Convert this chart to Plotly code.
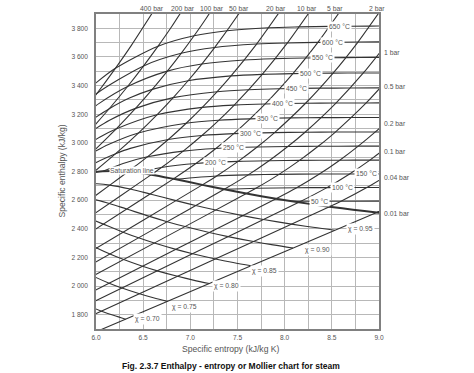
import plotly.graph_objects as go

# ---------------- data (s in kJ/kg K, h in kJ/kg) ----------------
# saturated vapour line
sat_s = [5.9734, 6.0701, 6.1869, 6.3409, 6.5865, 6.8213, 7.1271, 7.3594, 7.5939, 7.9085, 8.1502, 8.3951, 8.4746, 8.7237, 8.9756, 9.1562]
sat_h = [2794.3, 2801.4, 2804.2, 2799.5, 2778.1, 2748.7, 2706.7, 2675.5, 2645.9, 2609.7, 2584.7, 2561.5, 2554.4, 2533.5, 2514.2, 2501.4]

# isobars
p400_s = [5.7785, 6.0114, 6.2054, 6.3750, 6.6662]
p400_h = [3149.1, 3346.4, 3520.6, 3681.2, 3978.7]
p200_s = [5.9017, 6.1401, 6.3348, 6.5048, 6.6582, 6.7993, 7.0544]
p200_h = [3060.1, 3238.2, 3393.5, 3537.6, 3675.3, 3809.0, 4069.7]
p100_s = [5.9443, 6.2120, 6.4190, 6.5966, 6.7561, 6.9029, 7.0398, 7.1687, 7.4077]
p100_h = [2923.4, 3096.5, 3240.9, 3373.7, 3500.9, 3625.3, 3748.2, 3870.5, 4114.8]
p50_s = [5.9000, 5.9734, 6.2084, 6.4493, 6.6459, 6.8186, 6.9759, 7.1217, 7.2589, 7.5122, 7.7440]
p50_h = [2754.9, 2794.3, 2924.5, 3068.4, 3195.7, 3316.2, 3433.8, 3550.3, 3666.5, 3900.1, 4137.0]
p20_s = [5.9000, 6.1500, 6.3409, 6.4147, 6.5453, 6.7664, 6.9563, 7.1271, 7.2844, 7.4317, 7.7024, 7.9487]
p20_h = [2585.4, 2706.8, 2799.5, 2836.6, 2902.5, 3023.5, 3137.0, 3247.6, 3357.5, 3467.6, 3690.1, 3917.4]
p10_s = [5.9000, 6.2500, 6.5865, 6.6940, 6.9247, 7.1229, 7.3011, 7.4651, 7.7622, 8.0290, 8.2731]
p10_h = [2467.1, 2625.6, 2778.1, 2827.9, 2942.6, 3051.2, 3157.7, 3263.9, 3478.5, 3697.9, 3923.1]
p5_s = [5.9000, 6.4000, 6.8213, 7.0592, 7.2709, 7.4599, 7.6329, 7.7938, 8.0873, 8.3522, 8.5952]
p5_h = [2357.1, 2569.6, 2748.7, 2855.4, 2960.7, 3064.2, 3167.7, 3271.9, 3483.9, 3701.7, 3925.9]
p2_s = [5.9000, 6.5000, 7.1271, 7.2795, 7.5066, 7.7086, 7.8926, 8.2218, 8.5133, 8.7770, 9.0194]
p2_h = [2224.0, 2460.0, 2706.7, 2768.8, 2870.5, 2971.0, 3071.8, 3276.6, 3487.1, 3704.0, 3927.6]
p1_s = [5.9000, 6.6000, 7.3594, 7.6134, 7.8343, 8.0333, 8.2158, 8.5435, 8.8342, 9.0976]
p1_h = [2131.5, 2392.4, 2675.5, 2776.4, 2875.3, 2974.3, 3074.3, 3278.2, 3488.1, 3705.4]
p05_s = [5.9000, 6.7500, 7.5939, 7.6947, 7.9401, 8.1580, 8.3556, 8.5373, 8.8642, 9.1546]
p05_h = [2045.4, 2346.8, 2645.9, 2682.5, 2780.1, 2877.7, 2976.0, 3075.5, 3278.9, 3488.7]
p02_s = [5.9000, 6.9000, 7.9085, 8.1280, 8.3683, 8.5839, 8.7803, 8.9614, 9.1298]
p02_h = [1940.4, 2273.7, 2609.7, 2686.5, 2782.3, 2879.0, 2977.1, 3076.3, 3177.5]
p01_s = [5.9000, 7.0000, 8.1502, 8.4479, 8.6882, 8.9038, 9.1002]
p01_h = [1867.0, 2217.8, 2584.7, 2687.5, 2783.0, 2879.6, 2977.5]
p004_s = [5.9000, 7.2000, 8.4746, 8.5970, 8.8708, 9.1111]
p004_h = [1776.6, 2169.3, 2554.4, 2592.5, 2688.0, 2783.3]
p001_s = [6.0000, 7.5000, 8.9756, 9.2368]
p001_h = [1680.6, 2100.8, 2514.2, 2594.0]

# isotherms
t650_s = [5.9500, 6.2054, 6.6582, 7.0398, 7.3890, 7.8280, 8.1530, 8.4760, 8.9000, 9.2200]
t650_h = [3392.0, 3520.6, 3675.3, 3748.2, 3783.3, 3804.0, 3810.0, 3813.5, 3815.5, 3816.5]
t600_s = [5.9500, 6.0114, 6.5048, 6.9029, 7.2589, 7.7024, 8.0290, 8.3522, 8.7770, 9.0976]
t600_h = [3305.0, 3346.4, 3537.6, 3625.3, 3666.5, 3690.1, 3697.9, 3701.7, 3704.0, 3705.4]
t550_s = [5.7785, 6.0340, 6.3348, 6.7561, 7.1217, 7.5700, 7.8980, 8.2220, 8.6470, 8.9680, 9.2880]
t550_h = [3149.1, 3276.0, 3393.5, 3500.9, 3550.3, 3579.0, 3588.0, 3592.5, 3595.5, 3597.0, 3597.5]
t500_s = [5.7956, 5.9642, 6.1401, 6.3480, 6.5966, 6.9759, 7.4317, 7.7622, 8.0873, 8.5133, 8.8342, 9.1546]
t500_h = [3083.9, 3163.4, 3238.2, 3310.8, 3373.7, 3433.8, 3467.6, 3478.5, 3483.9, 3487.1, 3488.1, 3488.7]
t450_s = [5.9017, 6.1434, 6.4190, 6.8186, 7.2844, 7.6190, 7.9451, 8.3718, 8.6940, 9.0148]
t450_h = [3060.1, 3157.9, 3240.9, 3316.2, 3357.5, 3371.3, 3378.0, 3382.0, 3383.0, 3384.0]
t400_s = [5.8819, 6.0429, 6.2120, 6.6459, 7.1271, 7.4651, 7.7938, 8.2218, 8.5435, 8.8642, 9.2879]
t400_h = [2975.7, 3040.9, 3096.5, 3195.7, 3247.6, 3263.9, 3271.9, 3276.6, 3278.2, 3278.9, 3279.6]
t350_s = [5.9443, 6.1321, 6.4493, 6.9563, 7.3011, 7.6329, 8.0597, 8.3822, 8.7037, 9.1298]
t350_h = [2923.4, 2988.1, 3068.4, 3137.0, 3157.7, 3167.7, 3174.2, 3176.0, 3177.0, 3177.5]
t300_s = [5.9305, 6.0674, 6.2084, 6.3639, 6.7664, 7.1229, 7.4599, 7.8926, 8.2158, 8.5373, 8.9614, 9.2813]
t300_h = [2838.4, 2884.2, 2924.5, 2961.7, 3023.5, 3051.2, 3064.2, 3071.8, 3074.3, 3075.5, 3076.3, 3076.7]
t250_s = [6.0730, 6.2871, 6.5453, 6.9247, 7.2709, 7.7086, 8.0333, 8.3556, 8.7803, 9.1002]
t250_h = [2801.0, 2855.8, 2902.5, 2942.6, 2960.7, 2971.0, 2974.3, 2976.0, 2977.1, 2977.5]
t200_s = [6.4323, 6.6940, 7.0592, 7.5066, 7.8343, 8.1580, 8.5839, 8.9038, 9.3267]
t200_h = [2793.2, 2827.9, 2855.4, 2870.5, 2875.3, 2877.7, 2879.0, 2879.6, 2880.0]
t150_s = [6.8371, 7.2795, 7.6134, 7.9401, 8.3683, 8.6882, 9.1111]
t150_h = [2745.9, 2768.8, 2776.4, 2780.1, 2782.3, 2783.0, 2783.3]
t100_s = [7.3549, 7.6947, 8.1280, 8.4479, 8.8708, 9.5106]
t100_h = [2675.6, 2682.5, 2686.5, 2687.5, 2688.0, 2688.5]
t50_s = [8.0748, 8.1741, 8.5970, 9.2368]
t50_h = [2591.3, 2592.0, 2592.5, 2594.0]

# lines of constant dryness fraction
x95_s = [5.9064, 6.0098, 6.1462, 6.3641, 6.5733, 6.8473, 7.0566, 7.2688, 7.5548, 7.7752, 8.0720, 8.3004, 8.5321]
x95_h = [2715.7, 2714.3, 2705.0, 2677.3, 2643.3, 2596.5, 2562.6, 2530.6, 2491.8, 2465.0, 2432.7, 2410.4, 2390.0]
x90_s = [5.9516, 6.1417, 6.3252, 6.5674, 6.7537, 6.9436, 7.2009, 7.4001, 7.6694, 7.8772, 8.0886]
x90_h = [2610.4, 2576.6, 2537.9, 2486.4, 2449.7, 2415.4, 2373.9, 2345.3, 2311.1, 2287.4, 2265.7]
x85_s = [5.9193, 6.0772, 6.2876, 6.4509, 6.6185, 6.8471, 7.0251, 7.2668, 7.4541, 7.6451]
x85_h = [2475.8, 2432.4, 2376.3, 2336.8, 2300.1, 2256.0, 2225.7, 2189.4, 2164.4, 2141.5]
x80_s = [5.8292, 6.0077, 6.1480, 6.2933, 6.4933, 6.6500, 6.8642, 7.0309, 7.2017]
x80_h = [2327.0, 2266.2, 2223.9, 2184.8, 2138.0, 2106.1, 2067.8, 2041.4, 2017.2]
x75_s = [5.8452, 5.9682, 6.1395, 6.2750, 6.4616, 6.6078, 6.7582]
x75_h = [2111.0, 2069.6, 2020.1, 1986.4, 1946.2, 1918.4, 1893.0]
x70_s = [5.8999, 6.0590, 6.1846, 6.3147]
x70_h = [1866.8, 1824.5, 1795.4, 1768.7]

# labels
top_labels = ['400 bar', '200 bar', '100 bar', '50 bar', '20 bar', '10 bar', '5 bar', '2 bar']
top_label_s = [6.590, 6.918, 7.234, 7.514, 7.907, 8.236, 8.537, 8.981]
right_labels = ['1 bar', '0.5 bar', '0.2 bar', '0.1 bar', '0.04 bar', '0.01 bar']
right_label_h = [3634, 3396, 3137, 2937, 2760, 2508]
temp_labels = ['650 °C', '600 °C', '550 °C', '500 °C', '450 °C', '400 °C', '350 °C',
               '300 °C', '250 °C', '200 °C', '150 °C', '100 °C', '50 °C']
temp_label_s = [8.585, 8.502, 8.399, 8.277, 8.126, 7.973, 7.814, 7.633, 7.460, 7.271, 8.872, 8.612, 8.367]
temp_label_h = [3813, 3701, 3593, 3486, 3379, 3272, 3170, 3067, 2965, 2863, 2783, 2689, 2594]
dry_labels = ['χ = 0.95', 'χ = 0.90', 'χ = 0.85', 'χ = 0.80', 'χ = 0.75', 'χ = 0.70']
dry_label_s = [8.805, 8.349, 7.787, 7.388, 6.933, 6.551]
dry_label_h = [2398, 2251, 2102, 1997, 1852, 1771]

x_tickvals = [6.0, 6.25, 6.5, 6.75, 7.0, 7.25, 7.5, 7.75, 8.0, 8.25, 8.5, 8.75, 9.0]
x_ticktext = ['6.0', '', '6.5', '', '7.0', '', '7.5', '', '8.0', '', '8.5', '', '9.0']
y_tickvals = [1700, 1800, 1900, 2000, 2100, 2200, 2300, 2400, 2500, 2600, 2700, 2800,
              2900, 3000, 3100, 3200, 3300, 3400, 3500, 3600, 3700, 3800, 3900]
y_ticktext = ['', '1 800', '', '2 000', '', '2 200', '', '2 400', '', '2 600', '', '2 800',
              '', '3 000', '', '3 200', '', '3 400', '', '3 600', '', '3 800', '']

# ---------------- figure ----------------
FONT = 'Arial, Liberation Sans, sans-serif'
LINE = '#333333'
TXT = '#555555'

fig = go.Figure()

def add(s, h, width=1.1, smooth=1.0):
    fig.add_trace(go.Scatter(x=s, y=h, mode='lines',
                             line=dict(color=LINE, width=width, shape='spline', smoothing=smooth),
                             hoverinfo='skip', showlegend=False))

for s, h in [(p400_s, p400_h), (p200_s, p200_h), (p100_s, p100_h), (p50_s, p50_h),
             (p20_s, p20_h), (p10_s, p10_h), (p5_s, p5_h), (p2_s, p2_h), (p1_s, p1_h),
             (p05_s, p05_h), (p02_s, p02_h), (p01_s, p01_h), (p004_s, p004_h), (p001_s, p001_h)]:
    add(s, h, smooth=0.6)
for s, h in [(t650_s, t650_h), (t600_s, t600_h), (t550_s, t550_h), (t500_s, t500_h),
             (t450_s, t450_h), (t400_s, t400_h), (t350_s, t350_h), (t300_s, t300_h),
             (t250_s, t250_h), (t200_s, t200_h), (t150_s, t150_h), (t100_s, t100_h), (t50_s, t50_h)]:
    add(s, h, smooth=0.8)
for s, h in [(x95_s, x95_h), (x90_s, x90_h), (x85_s, x85_h), (x80_s, x80_h), (x75_s, x75_h), (x70_s, x70_h)]:
    add(s, h, smooth=1.0)
add(sat_s, sat_h, width=2.0, smooth=0.8)

ann = []
lab_font = dict(family=FONT, size=6.8, color=TXT)
for t, s in zip(top_labels, top_label_s):
    ann.append(dict(x=s, y=1, xref='x', yref='paper', text=t, showarrow=False,
                    xanchor='center', yanchor='bottom', yshift=0, font=lab_font))
for t, h in zip(right_labels, right_label_h):
    ann.append(dict(x=9.0, y=h, xref='x', yref='y', text=t, showarrow=False,
                    xanchor='left', yanchor='middle', xshift=3, font=lab_font))
for t, s, h in zip(temp_labels, temp_label_s, temp_label_h):
    ann.append(dict(x=s, y=h, xref='x', yref='y', text=t, showarrow=False,
                    xanchor='center', yanchor='middle', bgcolor='white', borderpad=1, font=lab_font))
for t, s, h in zip(dry_labels, dry_label_s, dry_label_h):
    ann.append(dict(x=s, y=h, xref='x', yref='y', text=t, showarrow=False,
                    xanchor='center', yanchor='middle', bgcolor='white', borderpad=1, font=lab_font))
ann.append(dict(x=6.385, y=2809, xref='x', yref='y', text='Saturation line', showarrow=False,
                xanchor='center', yanchor='middle', bgcolor='white', borderpad=0, font=lab_font))

ann.append(dict(x=0.478, y=0, xref='paper', yref='paper', text='Specific entropy (kJ/kg K)',
                showarrow=False, xanchor='center', yanchor='middle', yshift=-20,
                font=dict(family=FONT, size=8.6, color=TXT)))
ann.append(dict(x=0, y=0.5, xref='paper', yref='paper', text='Specific enthalpy (kJ/kg)',
                showarrow=False, xanchor='center', yanchor='middle', xshift=-35, textangle=-90,
                font=dict(family=FONT, size=8.6, color=TXT)))
ann.append(dict(x=0.477, y=0, xref='paper', yref='paper',
                text='<b>Fig. 2.3.7 Enthalpy - entropy or Mollier chart for steam</b>',
                showarrow=False, xanchor='center', yanchor='middle', yshift=-36.5,
                font=dict(family=FONT, size=8.5, color='#111111')))

fig.update_layout(
    width=474, height=373,
    margin=dict(l=96, r=95, t=14, b=44),
    paper_bgcolor='white', plot_bgcolor='white',
    annotations=ann,
    xaxis=dict(range=[6.0, 9.0], tickvals=x_tickvals, ticktext=x_ticktext,
               showgrid=True, gridcolor='#b8b8b8', gridwidth=1.2, zeroline=False,
               showline=True, mirror=True, linecolor='#808080', linewidth=1.5,
               ticks='', ticklabelstandoff=1, tickfont=dict(family=FONT, size=6.6, color=TXT)),
    yaxis=dict(range=[1700, 3900], tickvals=y_tickvals, ticktext=y_ticktext,
               showgrid=True, gridcolor='#b8b8b8', gridwidth=1.2, zeroline=False,
               showline=True, mirror=True, linecolor='#808080', linewidth=1.5,
               ticks='', ticklabelstandoff=5, tickfont=dict(family=FONT, size=6.6, color=TXT)),
)

fig.write_html('out.html', config={'displayModeBar': False},
               post_script="document.body.style.margin='0';document.body.style.padding='0';")
